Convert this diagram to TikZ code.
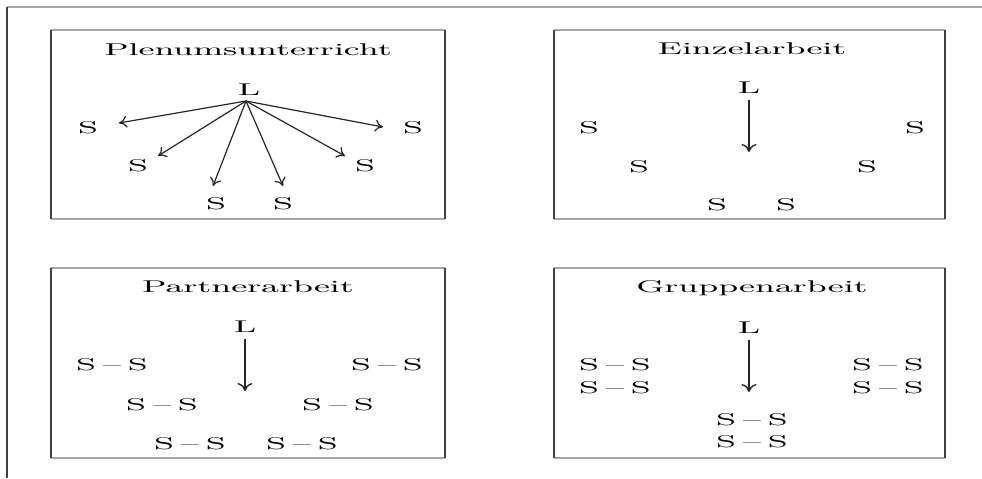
\documentclass[tikz,border=0pt]{standalone}
\usepackage{graphicx}
\usetikzlibrary{arrows.meta}
\newcommand{\wtxt}[1]{\scalebox{2.05}[1]{#1}}
\newcommand{\pairSS}{\wtxt{S\hspace{0.2em}--\hspace{0.2em}S}}
\begin{document}
\begin{tikzpicture}[x=0.5pt,y=-0.5pt,
  lab/.style={inner sep=0pt, font=\fontsize{8.5}{10}\selectfont},
  arr/.style={-{To[length=4pt,width=6pt]}, line width=0.6pt, black!85},
  varr/.style={-{To[length=4pt,width=7.5pt]}, line width=0.7pt, black!85, shorten <=3pt},
  side/.style={line width=1pt, black!75},
  hedge/.style={line width=1.2pt, black!35}]
\useasboundingbox (0,0) rectangle (982,478);
% outer frame
\draw[hedge] (7,7) -- (982,7);
\draw[side] (7,7) -- (7,478);
% boxes
\draw[hedge] (51,30) -- (445,30) (51,219) -- (445,219);
\draw[side] (51,30) -- (51,219) (445,30) -- (445,219);
\draw[hedge] (554,30) -- (945,30) (554,219) -- (945,219);
\draw[side] (554,30) -- (554,219) (945,30) -- (945,219);
\draw[hedge] (51,268) -- (445,268) (51,458) -- (445,458);
\draw[side] (51,268) -- (51,458) (445,268) -- (445,458);
\draw[hedge] (554,268) -- (945,268) (554,458) -- (945,458);
\draw[side] (554,268) -- (554,458) (945,268) -- (945,458);

% Box 1: Plenumsunterricht
\node[lab] (t1) at (248,50) {\wtxt{Plenumsunterricht}};
\node[lab] (L1) at (249,90) {\wtxt{L}};
\node[lab] (s11) at (88,128) {\wtxt{S}};
\node[lab] (s12) at (138,166) {\wtxt{S}};
\node[lab] (s13) at (216,204) {\wtxt{S}};
\node[lab] (s14) at (283,204) {\wtxt{S}};
\node[lab] (s15) at (365,166) {\wtxt{S}};
\node[lab] (s16) at (413,128) {\wtxt{S}};
\draw[arr] ([shift={(-3,11)}]L1.center) -- ([shift={(31,-5)}]s11.center);
\draw[arr] ([shift={(-3,11)}]L1.center) -- ([shift={(20,-10)}]s12.center);
\draw[arr] ([shift={(-3,11)}]L1.center) -- ([shift={(-3,-18)}]s13.center);
\draw[arr] ([shift={(-3,11)}]L1.center) -- ([shift={(0,-18)}]s14.center);
\draw[arr] ([shift={(-3,11)}]L1.center) -- ([shift={(-20,-10)}]s15.center);
\draw[arr] ([shift={(-3,11)}]L1.center) -- ([shift={(-30,-1)}]s16.center);

% Box 2: Einzelarbeit
\node[lab] (t2) at (752,49) {\wtxt{Einzelarbeit}};
\node[lab] (L2) at (749,88) {\wtxt{L}};
\coordinate (a2) at (749,152);
\draw[varr] (L2) -- (a2);
\node[lab] (s21) at (589,128) {\wtxt{S}};
\node[lab] (s22) at (639,167) {\wtxt{S}};
\node[lab] (s23) at (717,205) {\wtxt{S}};
\node[lab] (s24) at (786,205) {\wtxt{S}};
\node[lab] (s25) at (867,167) {\wtxt{S}};
\node[lab] (s26) at (915,128) {\wtxt{S}};

% Box 3: Partnerarbeit
\node[lab] (t3) at (248,287) {\wtxt{Partnerarbeit}};
\node[lab] (L3) at (245,327) {\wtxt{L}};
\coordinate (a3) at (245,391);
\draw[varr] (L3) -- (a3);
\node[lab] (p31) at (112,365) {\pairSS};
\node[lab] (p32) at (162,405) {\pairSS};
\node[lab] (p33) at (190,444) {\pairSS};
\node[lab] (p34) at (302,444) {\pairSS};
\node[lab] (p35) at (338,405) {\pairSS};
\node[lab] (p36) at (387,365) {\pairSS};

% Box 4: Gruppenarbeit
\node[lab] (t4) at (752,288) {\wtxt{Gruppenarbeit}};
\node[lab] (L4) at (749,328) {\wtxt{L}};
\coordinate (a4) at (749,392);
\draw[varr] (L4) -- (a4);
\node[lab] (q41) at (615,365) {\pairSS};
\node[lab] (q42) at (615,388) {\pairSS};
\node[lab] (q43) at (888,365) {\pairSS};
\node[lab] (q44) at (888,388) {\pairSS};
\node[lab] (q45) at (752,420) {\pairSS};
\node[lab] (q46) at (752,442) {\pairSS};
\end{tikzpicture}
\end{document}
